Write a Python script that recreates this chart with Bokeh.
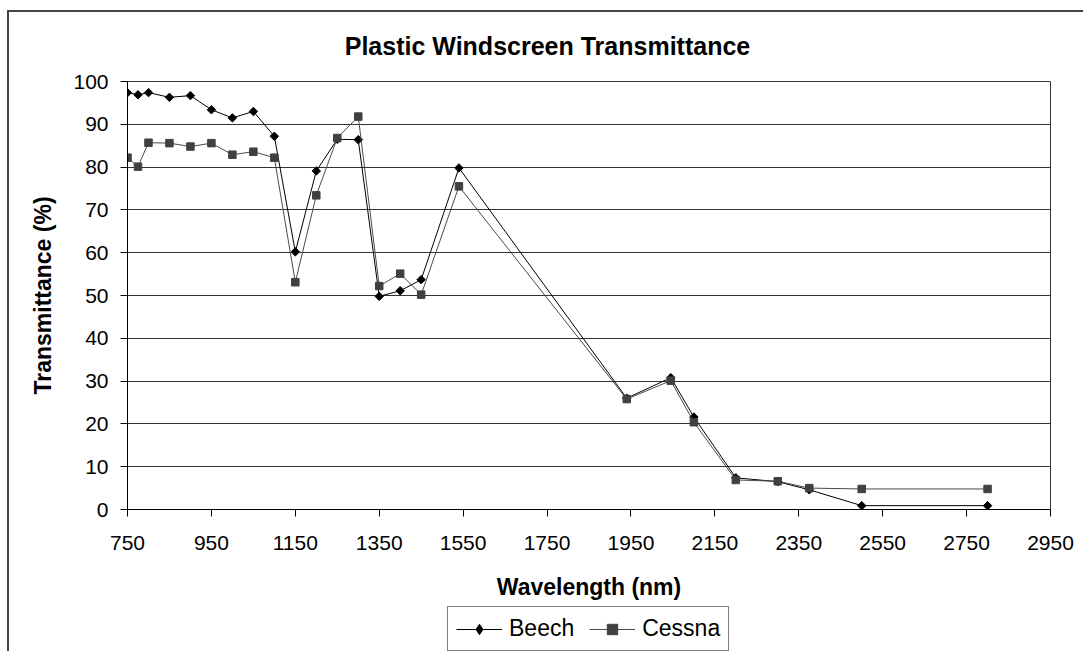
from bokeh.plotting import figure
from bokeh.layouts import column
from bokeh.models import Range1d, FixedTicker, Legend, LegendItem, Label
from bokeh.embed import file_html
from bokeh.resources import INLINE
import numpy as np

# ---- data ----
wavelength = [750, 775, 800, 850, 900, 950, 1000, 1050, 1100, 1150, 1200, 1250, 1300,
              1350, 1400, 1450, 1540, 1940, 2045, 2100, 2200, 2300, 2375, 2500, 2800]
beech = [97.4, 96.9, 97.4, 96.3, 96.7, 93.4, 91.5, 93.0, 87.2, 60.2, 79.1, 86.5, 86.4,
         49.8, 51.1, 53.7, 79.8, 26.0, 30.8, 21.6, 7.4, 6.5, 4.6, 0.9, 0.9]
cessna = [82.2, 80.1, 85.7, 85.6, 84.8, 85.6, 82.9, 83.6, 82.2, 53.1, 73.4, 86.8, 91.8,
          52.2, 55.1, 50.2, 75.5, 25.8, 30.1, 20.4, 6.9, 6.6, 5.0, 4.8, 4.8]
x_ticks = [750, 950, 1150, 1350, 1550, 1750, 1950, 2150, 2350, 2550, 2750, 2950]
y_ticks = [0, 10, 20, 30, 40, 50, 60, 70, 80, 90, 100]
series_names = ["Beech", "Cessna"]

title_text = "Plastic Windscreen Transmittance"
x_label = "Wavelength (nm)"
y_label = "Transmittance (%)"

FONT = "Liberation Sans"
BEECH_COLOR = "black"
CESSNA_COLOR = "#404040"
CESSNA_LINE = "#4a4a4a"

W = 1076


def strip(height):
    f = figure(width=W, height=height, output_backend="svg", toolbar_location=None,
               x_range=Range1d(0, 1), y_range=Range1d(0, 1),
               x_axis_location=None, y_axis_location=None, min_border=0)
    f.xgrid.visible = False
    f.ygrid.visible = False
    f.outline_line_color = None
    return f


# ---- title strip ----
t = strip(59)
t.add_layout(Label(x=0.455, y=0.43, text=title_text, text_align="center",
                   text_baseline="middle", text_font=FONT, text_font_size="25px",
                   text_font_style="bold", text_color="black"))

# ---- main chart ----
p = figure(width=W, height=533, output_backend="svg", toolbar_location=None,
           x_range=Range1d(750, 2950), y_range=Range1d(0, 100),
           min_border_left=118, min_border_right=35, min_border_top=10,
           min_border_bottom=95)

p.outline_line_color = "#333333"
p.outline_line_width = 1

p.xgrid.visible = False
p.ygrid.grid_line_color = "#333333"
p.ygrid.grid_line_width = 1
p.ygrid.ticker = FixedTicker(ticks=y_ticks)

for ax in (p.xaxis[0], p.yaxis[0]):
    ax.axis_line_color = "black"
    ax.major_tick_line_color = "black"
    ax.minor_tick_line_color = None
    ax.major_tick_in = 0
    ax.major_tick_out = 7
    ax.major_label_text_font = FONT
    ax.major_label_text_font_size = "21px"
    ax.major_label_text_color = "black"
    ax.axis_label_text_font = FONT
    ax.axis_label_text_font_size = "23px"
    ax.axis_label_text_font_style = "bold"
    ax.axis_label_text_color = "black"

p.xaxis.ticker = FixedTicker(ticks=x_ticks)
p.yaxis.ticker = FixedTicker(ticks=y_ticks)
p.xaxis.axis_label = x_label
p.yaxis.axis_label = y_label
p.xaxis.major_label_standoff = 19
p.xaxis.axis_label_standoff = 21
p.yaxis.major_label_standoff = 12
p.yaxis.axis_label_standoff = 14

p.line(wavelength, beech, line_color=BEECH_COLOR, line_width=1)
p.scatter(wavelength, beech, marker="square", angle=np.pi / 4, size=6,
          fill_color=BEECH_COLOR, line_color=BEECH_COLOR)
p.line(wavelength, cessna, line_color=CESSNA_LINE, line_width=1)
p.scatter(wavelength, cessna, marker="square", size=7.5,
          fill_color=CESSNA_COLOR, line_color=CESSNA_COLOR)

# ---- legend strip (its ranges keep the series out of view) ----
q = strip(49)
lb = q.line(wavelength, beech, line_color=BEECH_COLOR, line_width=1)
sb = q.scatter(wavelength, beech, marker="diamond", size=9,
               fill_color=BEECH_COLOR, line_color=BEECH_COLOR)
lc = q.line(wavelength, cessna, line_color=CESSNA_LINE, line_width=1)
sc = q.scatter(wavelength, cessna, marker="square", size=6,
               fill_color=CESSNA_COLOR, line_color=CESSNA_COLOR)

legend = Legend(items=[LegendItem(label=series_names[0], renderers=[lb, sb]),
                       LegendItem(label=series_names[1], renderers=[lc, sc])],
                orientation="horizontal", location=(320, 2))
legend.label_text_font = FONT
legend.label_text_font_size = "23px"
legend.label_text_color = "black"
legend.border_line_color = "black"
legend.border_line_width = 1
legend.glyph_width = 46
legend.label_standoff = 7
legend.spacing = 15
legend.padding = 8
legend.margin = 0
legend.label_height = 26
legend.glyph_height = 26
legend.background_fill_alpha = 1
q.add_layout(legend, "center")

layout = column(t, p, q, spacing=0)
layout.styles = {"margin-left": "9px", "margin-top": "12px",
                 "box-shadow": "-2px -2px 0 0 #444444"}

open("out.html", "w").write(file_html(layout, INLINE))
